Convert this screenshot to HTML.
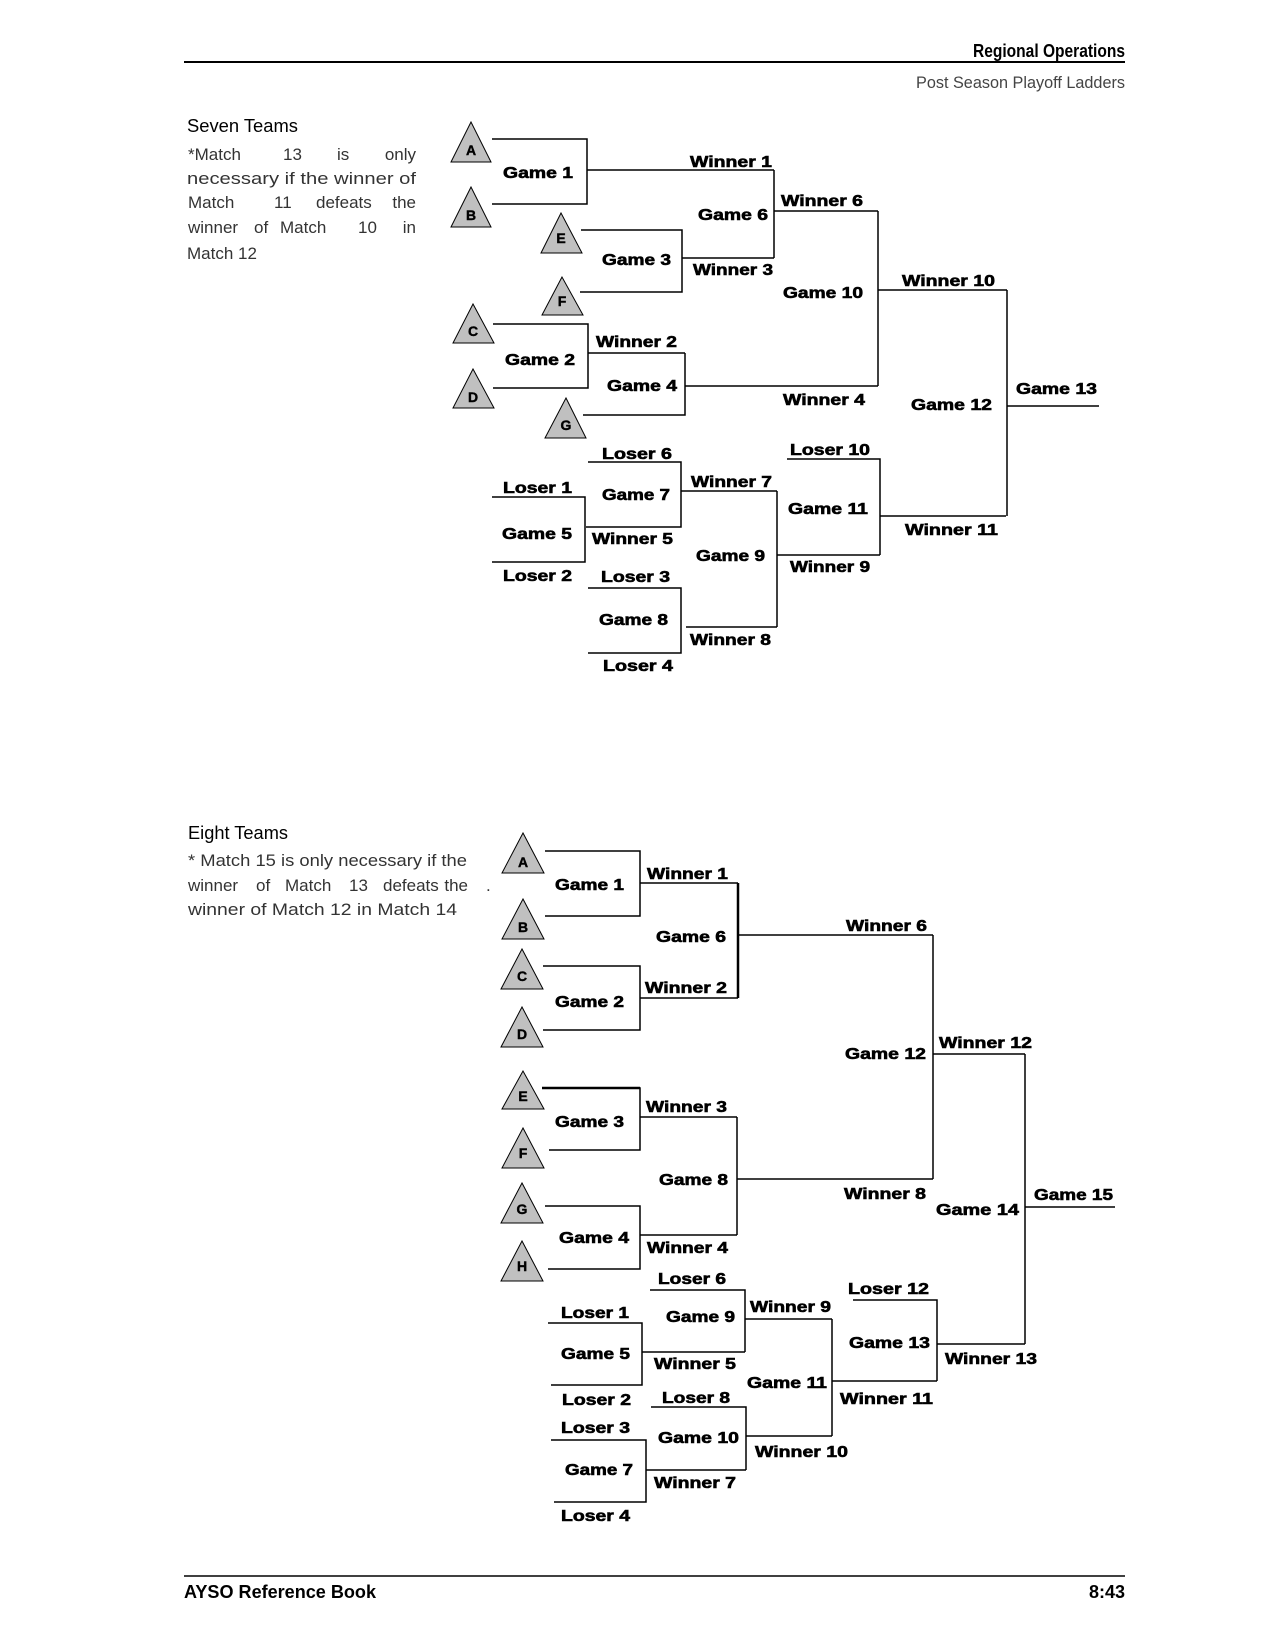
<!DOCTYPE html>
<html><head><meta charset="utf-8"><style>
html,body{margin:0;padding:0;background:#fff;}
svg{display:block;}
.l{font-family:"Liberation Sans",Arial,sans-serif;font-weight:900;font-size:16px;fill:#000;stroke:#000;stroke-width:0.6;}
.t{font-family:"Liberation Sans",Arial,sans-serif;font-weight:900;font-size:14px;fill:#000;text-anchor:middle;stroke:#000;stroke-width:0.4;}
.b{font-family:"Liberation Sans",Arial,sans-serif;font-size:17px;fill:#333;}
.h{font-family:"Liberation Sans",Arial,sans-serif;font-size:18px;fill:#000;}
.e{text-anchor:end;}
path{fill:none;stroke:#000;stroke-width:1.5;}
polygon{fill:#c0c0c0;stroke:#000;stroke-width:1;}
</style></head><body>
<svg width="1275" height="1650" viewBox="0 0 1275 1650" xmlns="http://www.w3.org/2000/svg">
<!-- header -->
<text class="h" x="973" y="57" textLength="152" lengthAdjust="spacingAndGlyphs" style="font-weight:bold">Regional Operations</text>
<line x1="184" y1="62" x2="1125" y2="62" stroke="#000" stroke-width="2"/>
<text class="b" x="916" y="88" textLength="209" lengthAdjust="spacingAndGlyphs" style="fill:#444">Post Season Playoff Ladders</text>

<!-- seven teams text -->
<text class="h" x="187" y="132" textLength="111" lengthAdjust="spacingAndGlyphs">Seven Teams</text>
<g class="b">
<text x="188" y="160">*Match</text>
<text x="283" y="160">13</text>
<text x="337" y="160">is</text>
<text class="e" x="416" y="160">only</text>
<text x="187" y="184" textLength="229" lengthAdjust="spacingAndGlyphs">necessary if the winner of</text>
<text x="188" y="208">Match</text>
<text x="274" y="208">11</text>
<text x="316" y="208">defeats</text>
<text class="e" x="416" y="208">the</text>
<text x="188" y="233">winner</text>
<text x="254" y="233">of</text>
<text x="280" y="233">Match</text>
<text x="358" y="233">10</text>
<text class="e" x="416" y="233">in</text>
<text x="187" y="259">Match 12</text>
</g>

<!-- seven teams bracket -->
<path d="M492,139 H587 V204 H492 M587,170 H774 M774,170 V258 M774,211 H878"/>
<path d="M581,230 H682 V292 H580 M682,258 H774"/>
<path d="M493,324 H588 V388 H493 M588,353 H685 M685,353 V415 H583 M685,386 H878"/>
<path d="M878,211 V386 M878,290 H1007 M1007,290 V516 M1007,406 H1099"/>
<path d="M588,462 H681 V527 H586 M681,491 H777 M492,497 H585 V562 H492"/>
<path d="M588,588 H681 V653 H588 M686,627 H777 M777,491 V627 M777,555 H880"/>
<path d="M787,459 H880 V555 M880,516 H1006"/>

<polygon points="471,122 451,162 491,162"/><text class="t" x="471" y="155">A</text>
<polygon points="471,187 451,227 491,227"/><text class="t" x="471" y="220">B</text>
<polygon points="561,213 541,253 582,253"/><text class="t" x="561" y="243">E</text>
<polygon points="562,277 542,315 583,315"/><text class="t" x="562" y="306">F</text>
<polygon points="473,304 453,343 494,343"/><text class="t" x="473" y="336">C</text>
<polygon points="473,369 453,408 494,408"/><text class="t" x="473" y="402">D</text>
<polygon points="566,398 545,438 586,438"/><text class="t" x="566" y="430">G</text>

<g class="l">
<text x="503" y="178" textLength="70" lengthAdjust="spacingAndGlyphs">Game 1</text>
<text x="690" y="167" textLength="82" lengthAdjust="spacingAndGlyphs">Winner 1</text>
<text x="698" y="220" textLength="70" lengthAdjust="spacingAndGlyphs">Game 6</text>
<text x="781" y="206" textLength="82" lengthAdjust="spacingAndGlyphs">Winner 6</text>
<text x="602" y="265" textLength="69" lengthAdjust="spacingAndGlyphs">Game 3</text>
<text x="693" y="275" textLength="80" lengthAdjust="spacingAndGlyphs">Winner 3</text>
<text x="783" y="298" textLength="80" lengthAdjust="spacingAndGlyphs">Game 10</text>
<text x="902" y="286" textLength="93" lengthAdjust="spacingAndGlyphs">Winner 10</text>
<text x="596" y="347" textLength="81" lengthAdjust="spacingAndGlyphs">Winner 2</text>
<text x="505" y="365" textLength="70" lengthAdjust="spacingAndGlyphs">Game 2</text>
<text x="607" y="391" textLength="70" lengthAdjust="spacingAndGlyphs">Game 4</text>
<text x="783" y="405" textLength="82" lengthAdjust="spacingAndGlyphs">Winner 4</text>
<text x="911" y="410" textLength="81" lengthAdjust="spacingAndGlyphs">Game 12</text>
<text x="1016" y="394" textLength="81" lengthAdjust="spacingAndGlyphs">Game 13</text>
<text x="602" y="459" textLength="70" lengthAdjust="spacingAndGlyphs">Loser 6</text>
<text x="790" y="455" textLength="80" lengthAdjust="spacingAndGlyphs">Loser 10</text>
<text x="691" y="487" textLength="81" lengthAdjust="spacingAndGlyphs">Winner 7</text>
<text x="503" y="493" textLength="69" lengthAdjust="spacingAndGlyphs">Loser 1</text>
<text x="602" y="500" textLength="68" lengthAdjust="spacingAndGlyphs">Game 7</text>
<text x="788" y="514" textLength="80" lengthAdjust="spacingAndGlyphs">Game 11</text>
<text x="905" y="535" textLength="93" lengthAdjust="spacingAndGlyphs">Winner 11</text>
<text x="502" y="539" textLength="70" lengthAdjust="spacingAndGlyphs">Game 5</text>
<text x="592" y="544" textLength="81" lengthAdjust="spacingAndGlyphs">Winner 5</text>
<text x="696" y="561" textLength="69" lengthAdjust="spacingAndGlyphs">Game 9</text>
<text x="790" y="572" textLength="80" lengthAdjust="spacingAndGlyphs">Winner 9</text>
<text x="503" y="581" textLength="69" lengthAdjust="spacingAndGlyphs">Loser 2</text>
<text x="601" y="582" textLength="69" lengthAdjust="spacingAndGlyphs">Loser 3</text>
<text x="599" y="625" textLength="69" lengthAdjust="spacingAndGlyphs">Game 8</text>
<text x="690" y="645" textLength="81" lengthAdjust="spacingAndGlyphs">Winner 8</text>
<text x="603" y="671" textLength="70" lengthAdjust="spacingAndGlyphs">Loser 4</text>
</g>

<!-- eight teams text -->
<text class="h" x="188" y="839" textLength="100" lengthAdjust="spacingAndGlyphs">Eight Teams</text>
<g class="b">
<text x="188" y="866" textLength="279" lengthAdjust="spacingAndGlyphs">* Match 15 is only necessary if the</text>
<text x="188" y="891">winner</text>
<text x="256" y="891">of</text>
<text x="285" y="891">Match</text>
<text x="349" y="891">13</text>
<text x="383" y="891">defeats</text>
<text class="e" x="468" y="891">the</text>
<text x="188" y="915" textLength="269" lengthAdjust="spacingAndGlyphs">winner of Match 12 in Match 14</text>
<text x="486" y="891">.</text>
</g>

<!-- eight teams bracket -->
<path d="M545,851 H640 V916 H545 M640,883 H738 M543,966 H640 V1030 H543 M640,998 H738"/>
<path d="M738,883 V998" style="stroke-width:2.5"/>
<path d="M738,935 H933"/>
<path d="M542,1088 H640 V1150 H549 M640,1117 H737 M545,1206 H640 V1269 H548 M640,1235 H737"/>
<path d="M542,1088 H640" style="stroke-width:2.5"/>
<path d="M737,1117 V1235 M737,1179 H933 M933,935 V1179 M933,1054 H1025"/>
<path d="M548,1323 H642 V1385 H551 M642,1352 H745 M650,1290 H745 V1352 M745,1319 H832"/>
<path d="M551,1440 H646 V1502 H554 M646,1470 H746 M651,1407 H746 V1470 M746,1436 H832"/>
<path d="M832,1319 V1436 M832,1381 H937 M853,1300 H937 V1381 M937,1344 H1025"/>
<path d="M1025,1054 V1344 M1025,1207 H1115"/>

<polygon points="523,833 502,873 544,873"/><text class="t" x="523" y="867">A</text>
<polygon points="523,899 502,939 544,939"/><text class="t" x="523" y="932">B</text>
<polygon points="522,949 501,989 543,989"/><text class="t" x="522" y="981">C</text>
<polygon points="522,1007 501,1047 543,1047"/><text class="t" x="522" y="1039">D</text>
<polygon points="523,1071 502,1109 544,1109"/><text class="t" x="523" y="1101">E</text>
<polygon points="523,1128 502,1168 544,1168"/><text class="t" x="523" y="1158">F</text>
<polygon points="522,1183 501,1223 543,1223"/><text class="t" x="522" y="1214">G</text>
<polygon points="522,1241 501,1281 543,1281"/><text class="t" x="522" y="1271">H</text>

<g class="l">
<text x="555" y="890" textLength="69" lengthAdjust="spacingAndGlyphs">Game 1</text>
<text x="647" y="879" textLength="81" lengthAdjust="spacingAndGlyphs">Winner 1</text>
<text x="656" y="942" textLength="70" lengthAdjust="spacingAndGlyphs">Game 6</text>
<text x="846" y="931" textLength="81" lengthAdjust="spacingAndGlyphs">Winner 6</text>
<text x="555" y="1007" textLength="69" lengthAdjust="spacingAndGlyphs">Game 2</text>
<text x="645" y="993" textLength="82" lengthAdjust="spacingAndGlyphs">Winner 2</text>
<text x="845" y="1059" textLength="81" lengthAdjust="spacingAndGlyphs">Game 12</text>
<text x="939" y="1048" textLength="93" lengthAdjust="spacingAndGlyphs">Winner 12</text>
<text x="555" y="1127" textLength="69" lengthAdjust="spacingAndGlyphs">Game 3</text>
<text x="646" y="1112" textLength="81" lengthAdjust="spacingAndGlyphs">Winner 3</text>
<text x="659" y="1185" textLength="69" lengthAdjust="spacingAndGlyphs">Game 8</text>
<text x="844" y="1199" textLength="82" lengthAdjust="spacingAndGlyphs">Winner 8</text>
<text x="936" y="1215" textLength="83" lengthAdjust="spacingAndGlyphs">Game 14</text>
<text x="1034" y="1200" textLength="79" lengthAdjust="spacingAndGlyphs">Game 15</text>
<text x="559" y="1243" textLength="70" lengthAdjust="spacingAndGlyphs">Game 4</text>
<text x="647" y="1253" textLength="81" lengthAdjust="spacingAndGlyphs">Winner 4</text>
<text x="658" y="1284" textLength="68" lengthAdjust="spacingAndGlyphs">Loser 6</text>
<text x="848" y="1294" textLength="81" lengthAdjust="spacingAndGlyphs">Loser 12</text>
<text x="750" y="1312" textLength="81" lengthAdjust="spacingAndGlyphs">Winner 9</text>
<text x="561" y="1318" textLength="68" lengthAdjust="spacingAndGlyphs">Loser 1</text>
<text x="666" y="1322" textLength="69" lengthAdjust="spacingAndGlyphs">Game 9</text>
<text x="849" y="1348" textLength="81" lengthAdjust="spacingAndGlyphs">Game 13</text>
<text x="561" y="1359" textLength="69" lengthAdjust="spacingAndGlyphs">Game 5</text>
<text x="945" y="1364" textLength="92" lengthAdjust="spacingAndGlyphs">Winner 13</text>
<text x="654" y="1369" textLength="82" lengthAdjust="spacingAndGlyphs">Winner 5</text>
<text x="747" y="1388" textLength="80" lengthAdjust="spacingAndGlyphs">Game 11</text>
<text x="662" y="1403" textLength="68" lengthAdjust="spacingAndGlyphs">Loser 8</text>
<text x="840" y="1404" textLength="93" lengthAdjust="spacingAndGlyphs">Winner 11</text>
<text x="562" y="1405" textLength="69" lengthAdjust="spacingAndGlyphs">Loser 2</text>
<text x="561" y="1433" textLength="69" lengthAdjust="spacingAndGlyphs">Loser 3</text>
<text x="658" y="1443" textLength="81" lengthAdjust="spacingAndGlyphs">Game 10</text>
<text x="755" y="1457" textLength="93" lengthAdjust="spacingAndGlyphs">Winner 10</text>
<text x="565" y="1475" textLength="68" lengthAdjust="spacingAndGlyphs">Game 7</text>
<text x="654" y="1488" textLength="82" lengthAdjust="spacingAndGlyphs">Winner 7</text>
<text x="561" y="1521" textLength="69" lengthAdjust="spacingAndGlyphs">Loser 4</text>
</g>

<!-- footer -->
<line x1="184" y1="1576" x2="1125" y2="1576" stroke="#000" stroke-width="1.5"/>
<text class="h" x="184" y="1598" textLength="192" lengthAdjust="spacingAndGlyphs" style="font-weight:bold">AYSO Reference Book</text>
<text class="h" x="1125" y="1598" text-anchor="end" style="font-weight:bold">8:43</text>
</svg>
</body></html>
